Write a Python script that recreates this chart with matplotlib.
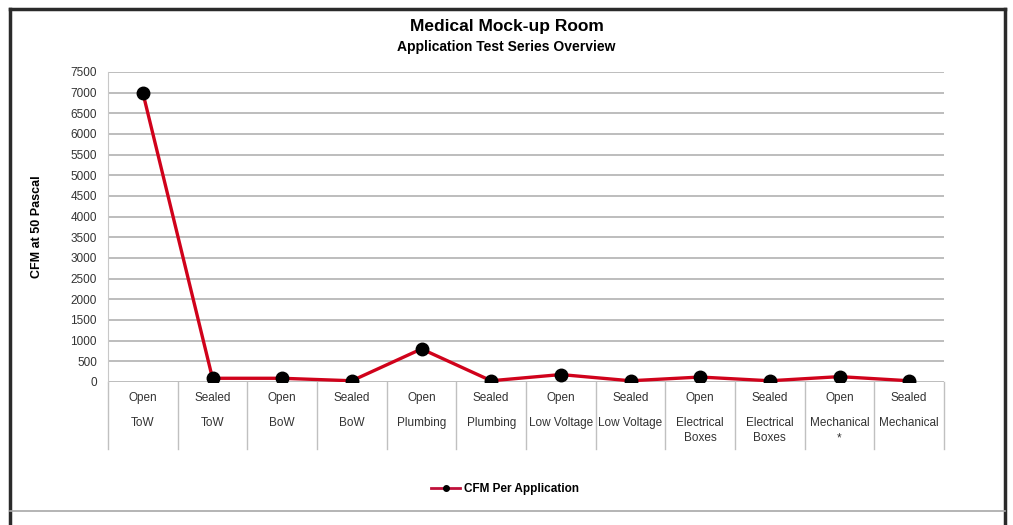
import numpy as np
import matplotlib
matplotlib.use("Agg")
import matplotlib.pyplot as plt
from matplotlib.lines import Line2D
import matplotlib.transforms as mtransforms

## Data
states = ["Open", "Sealed", "Open", "Sealed", "Open", "Sealed",
          "Open", "Sealed", "Open", "Sealed", "Open", "Sealed"]
applications = ["ToW", "ToW", "BoW", "BoW", "Plumbing", "Plumbing",
                "Low Voltage", "Low Voltage", "Electrical\nBoxes", "Electrical\nBoxes",
                "Mechanical\n*", "Mechanical"]
cfm = [7000, 90, 90, 30, 800, 30, 180, 30, 120, 30, 130, 30]
y_ticks = list(range(0, 7501, 500))

plt.rcParams['font.family'] = ['Liberation Sans', 'DejaVu Sans']

W, H = 1013, 525
fig = plt.figure(figsize=(W / 100, H / 100), dpi=100)

# frame round the chart
def fx(px):
    return px / W

def fy(py):
    return 1 - py / H

fig.add_artist(Line2D([fx(10), fx(10)], [fy(9), 0], color="#2a2a2a", lw=2.5))
fig.add_artist(Line2D([fx(1005), fx(1005)], [fy(9), 0], color="#2a2a2a", lw=2.5))
fig.add_artist(Line2D([fx(10), fx(1005)], [fy(9), fy(9)], color="#2a2a2a", lw=2.5))
fig.add_artist(Line2D([fx(10), fx(1005)], [fy(511), fy(511)], color="#a8a8a8", lw=1.2))

## Axes
ax = fig.add_axes([fx(108), fy(382), fx(944) - fx(108), fy(72) - fy(382)])
x = np.arange(len(cfm))
line, = ax.plot(x, cfm, color="#d0021b", lw=2.4, marker="o", markersize=9,
                markerfacecolor="black", markeredgecolor="black", zorder=3)

ax.set_xlim(-0.5, len(cfm) - 0.5)
ax.set_ylim(0, 7500)
ax.set_yticks(y_ticks)
ax.set_yticklabels([str(v) for v in y_ticks], fontsize=8.5, color="#333333")
ax.tick_params(axis="y", length=0, pad=8)
ax.set_xticks([])
ax.yaxis.grid(True, color="#ababab", lw=1.1)
ax.set_axisbelow(True)
for s in ["top", "right", "bottom"]:
    ax.spines[s].set_visible(False)
ax.spines["left"].set_color("#c8c8c8")

ax.set_ylabel("CFM at 50 Pascal", fontsize=9, fontweight="bold", labelpad=20)

# category labels in two rows, with separators
trans = mtransforms.blended_transform_factory(ax.transData, ax.transAxes)
for i in range(len(cfm)):
    ax.text(i, -0.052, states[i], transform=trans, ha="center", va="center",
            fontsize=8.5, color="#333333", clip_on=False)
    ax.text(i, -0.113, applications[i], transform=trans, ha="center", va="top",
            fontsize=8.5, color="#333333", clip_on=False, linespacing=1.35)
for b in np.arange(-0.5, len(cfm), 1.0):
    ax.plot([b, b], [0, -0.215], transform=trans, color="#c0c0c0", lw=1, clip_on=False)

## Titles
fig.text(0.5, fy(27), "Medical Mock-up Room", ha="center", va="center",
         fontsize=12.5, fontweight="bold")
fig.text(0.5, fy(47), "Application Test Series Overview", ha="center", va="center",
         fontsize=10, fontweight="bold")

## Legend
handle = Line2D([], [], color="#c0103a", lw=2, marker="o", markersize=4,
                markerfacecolor="black", markeredgecolor="black")
fig.legend([handle], ["CFM Per Application"], loc="center", bbox_to_anchor=(fx(505), fy(489)),
           frameon=False, prop={"weight": "bold", "size": 8.5}, handlelength=2.5, handletextpad=0.3)

fig.savefig("out.png", dpi=100)
